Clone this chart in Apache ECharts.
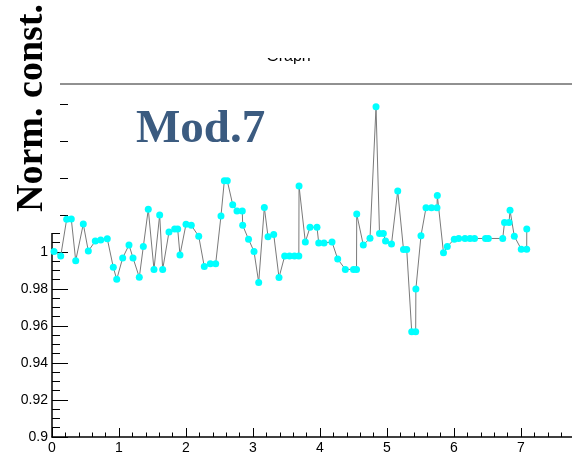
<!DOCTYPE html>
<html>
<head>
<meta charset="utf-8">
<script src="https://cdn.jsdelivr.net/npm/echarts@6/dist/echarts.min.js"></script>
<style>
html,body{margin:0;padding:0;background:#fff;}
#chart{width:572px;height:459px;}
</style>
</head>
<body>
<div id="chart"></div>
<script>
const xValues = [0.030,0.130,0.219,0.288,0.354,0.467,0.542,0.646,0.727,0.825,
  0.915,0.966,1.055,1.149,1.209,1.303,1.363,1.437,1.522,1.607,
  1.652,1.746,1.831,1.876,1.910,2.000,2.079,2.190,2.273,2.363,
  2.443,2.522,2.572,2.616,2.697,2.761,2.840,2.846,2.933,3.015,
  3.085,3.169,3.224,3.309,3.388,3.473,3.545,3.619,3.684,3.687,
  3.781,3.851,3.955,3.981,4.060,4.179,4.264,4.378,4.500,4.545,
  4.548,4.646,4.746,4.836,4.888,4.945,4.978,5.067,5.160,5.246,
  5.294,5.369,5.428,5.431,5.507,5.582,5.664,5.746,5.751,5.843,
  5.900,6.004,6.070,6.164,6.239,6.306,6.470,6.512,6.727,6.754,
  6.821,6.836,6.900,7.004,7.085,7.086];
const yValues = [1.0002,0.9978,1.0177,1.0178,0.9953,1.0151,1.0005,1.0059,1.0065,1.0072,
  0.9917,0.9852,0.9968,1.0038,0.9968,0.9863,1.0029,1.0231,0.9906,1.0200,
  0.9906,1.0108,1.0124,1.0124,0.9984,1.0150,1.0144,1.0085,0.9921,0.9937,
  0.9937,1.0195,1.0385,1.0385,1.0256,1.0222,1.0222,1.0144,1.0069,1.0003,
  0.9835,1.0241,1.0083,1.0095,0.9862,0.9978,0.9978,0.9978,0.9978,1.0357,
  1.0054,1.0134,1.0134,1.0049,1.0049,1.0054,0.9962,0.9906,0.9906,0.9906,
  1.0205,1.0038,1.0074,1.0785,1.0100,1.0100,1.0059,1.0043,1.0330,1.0014,
  1.0014,0.9569,0.9569,0.9800,1.0088,1.0239,1.0239,1.0239,1.0306,0.9996,
  1.0030,1.0069,1.0073,1.0073,1.0073,1.0073,1.0073,1.0073,1.0073,1.0159,
  1.0159,1.0225,1.0085,1.0015,1.0015,1.0124];
const xTickLabels = [0,1,2,3,4,5,6,7];
const yTickLabels = [0.9,0.92,0.94,0.96,0.98,1];
const yMajorTicks = [0.9,0.92,0.94,0.96,0.98,1,1.02,1.04,1.06,1.08];
const titleText = 'Graph';
const yTitle = 'Norm. const.';
const moduleLabel = 'Mod.7';

const X_MIN = 0, X_MAX = 7.761, Y_MIN = 0.9, Y_MAX = 1.0908;
const points = xValues.map((x, i) => [x, yValues[i]]);

const chart = echarts.init(document.getElementById('chart'), null, {renderer: 'canvas'});
const labelFont = {fontFamily: 'Liberation Sans, Arial, sans-serif', fontSize: 14, color: '#000'};
chart.setOption({
  animation: false,
  backgroundColor: '#fff',
  grid: {left: 52, right: 0, top: 84, bottom: 22, containLabel: false},
  xAxis: [
    {type: 'value', min: X_MIN, max: X_MAX, interval: 1, position: 'bottom',
     axisLine: {show: true, onZero: false, lineStyle: {color: '#000', width: 1.5}},
     axisTick: {show: true, inside: true, length: 9, customValues: xTickLabels, lineStyle: {color: '#000', width: 1}},
     axisLabel: {show: true, margin: 4, customValues: xTickLabels, formatter: v => String(v), ...labelFont},
     splitLine: {show: false}},
    {type: 'value', min: X_MIN, max: X_MAX, interval: 0.2, position: 'bottom',
     axisLine: {show: false}, axisLabel: {show: false}, splitLine: {show: false},
     axisTick: {show: true, inside: true, length: 4.5, lineStyle: {color: '#000', width: 1}}}
  ],
  yAxis: [
    {type: 'value', min: Y_MIN, max: Y_MAX, interval: 0.02, position: 'left',
     axisLine: {show: true, onZero: false, lineStyle: {color: '#000', width: 1.5}},
     axisTick: {show: true, inside: true, length: 16, customValues: yMajorTicks, lineStyle: {color: '#000', width: 1}},
     axisLabel: {show: true, margin: 4, customValues: yTickLabels, formatter: v => String(+v.toFixed(2)), ...labelFont},
     splitLine: {show: false}},
    {type: 'value', min: Y_MIN, max: Y_MAX, interval: 0.005, position: 'left',
     axisLine: {show: false}, axisLabel: {show: false}, splitLine: {show: false},
     axisTick: {show: true, inside: true, length: 8, lineStyle: {color: '#000', width: 1}}}
  ],
  series: [{
    type: 'line', xAxisIndex: 0, yAxisIndex: 0, data: points,
    symbol: 'circle', symbolSize: 7, showSymbol: true, showAllSymbol: true,
    lineStyle: {color: '#7a7a7a', width: 1},
    itemStyle: {color: '#00ffff', borderWidth: 0},
    emphasis: {disabled: true}, clip: false, z: 3
  }],
  graphic: [
    {type: 'line', z: 50, shape: {x1: 52, y1: 84, x2: 572, y2: 84}, style: {stroke: '#222', lineWidth: 1}},
    {type: 'text', z: 50, style: {text: titleText, x: 288.5, y: 48.5, align: 'center', verticalAlign: 'top',
      font: '16px "Liberation Sans", Arial, sans-serif', fill: '#000'}},
    {type: 'rect', z: 60, shape: {x: 220, y: 0, width: 140, height: 58}, style: {fill: '#fff'}},
    {type: 'rect', z: 60, shape: {x: 0, y: 0, width: 60, height: 233}, style: {fill: '#fff'}},
    {type: 'text', z: 70, x: 32, y: 108, rotation: Math.PI / 2,
     style: {text: yTitle, x: 0, y: 0, align: 'center', verticalAlign: 'middle',
      font: 'bold 38px "Liberation Serif", "Times New Roman", serif', fill: '#000'}},
    {type: 'text', z: 70, style: {text: moduleLabel, x: 136, y: 106, align: 'left', verticalAlign: 'top',
      font: 'bold 47px "Liberation Serif", "Times New Roman", serif', fill: '#3b5b80'}}
  ]
});
</script>
</body>
</html>
